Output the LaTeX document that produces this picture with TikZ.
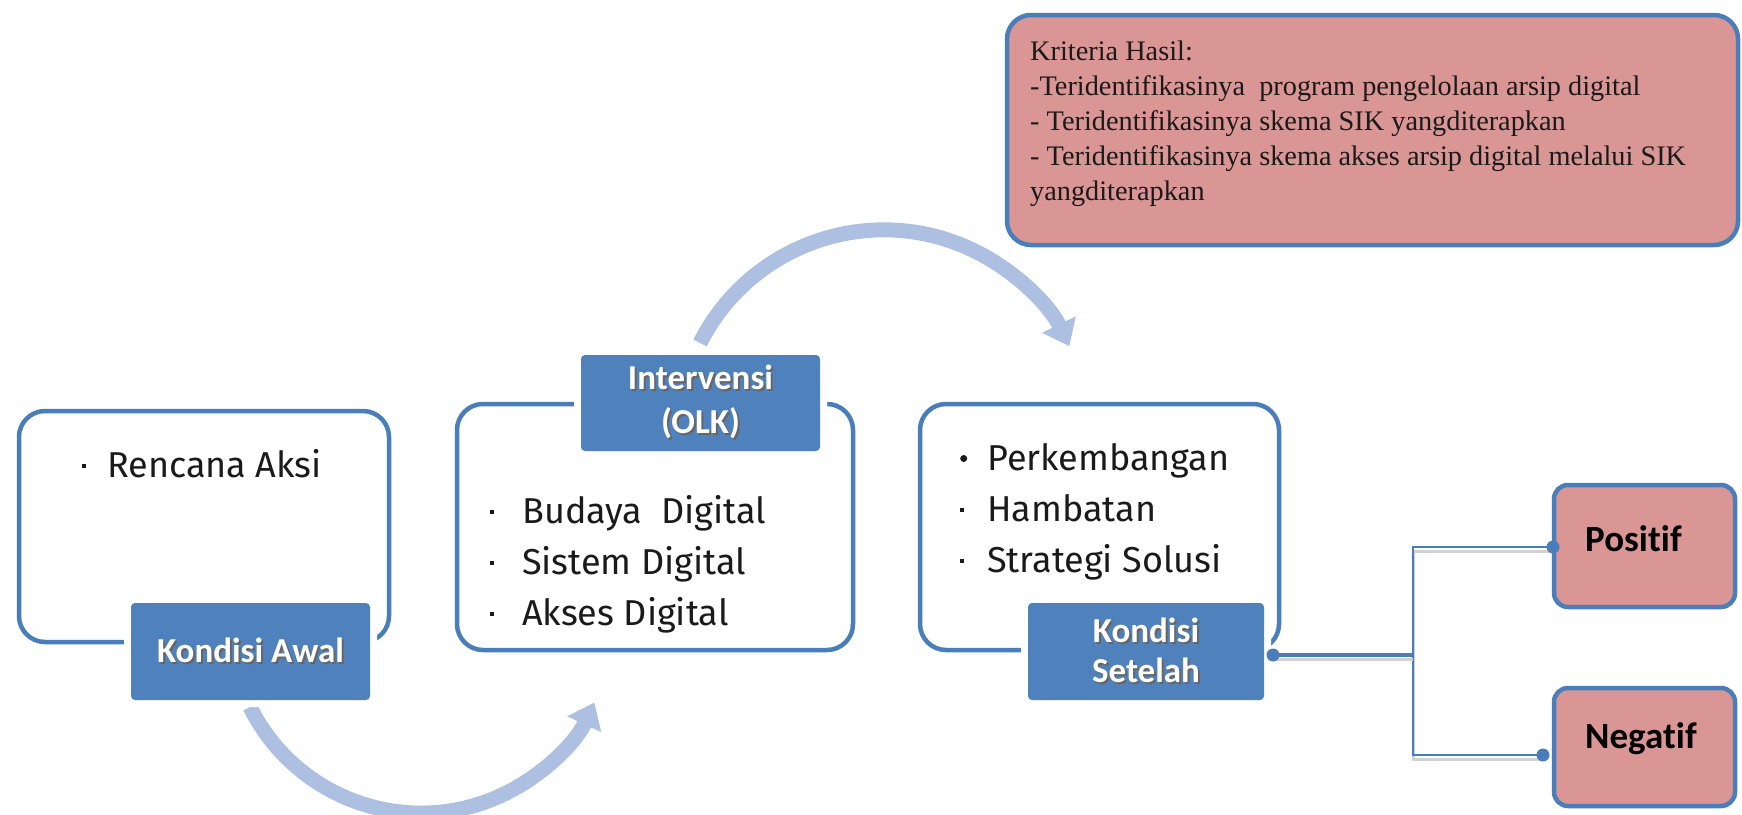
\documentclass[tikz,border=0pt]{standalone}
\usepackage{fontspec}
\setmainfont{Fira Sans}
\newfontfamily\labfont[Ligatures={NoCommon}]{Carlito}
\newfontfamily\serfont{Liberation Serif}
\usetikzlibrary{arrows.meta}
\definecolor{bord}{HTML}{4A7EBB}
\definecolor{labfill}{HTML}{4F81BD}
\definecolor{pinkf}{HTML}{D99694}
\definecolor{arrc}{HTML}{ADC0E2}
\definecolor{txt}{HTML}{1A1A1A}
\newcommand{\sqb}{\makebox[25pt][l]{\raisebox{9pt}{\rule{4pt}{4pt}}}}
\newcommand{\sqbb}{\makebox[32pt][l]{\raisebox{9pt}{\rule{4pt}{4pt}}}}
\newcommand{\rdb}{\makebox[27pt][l]{\raisebox{8pt}{\tikz\fill (0,0) circle (3.5pt);}}}
\newcommand{\sqbc}{\makebox[27pt][l]{\raisebox{9pt}{\rule{4pt}{4pt}}}}
\newcommand{\lines}[1]{\begin{tabular}[t]{@{}l@{}}#1\end{tabular}}
\newcommand{\sh}[1]{\makebox[0pt][l]{\hspace{2pt}\raisebox{-2pt}{\textcolor{black!60}{#1}}}#1}
\begin{document}
\begin{tikzpicture}[x=1pt,y=-1pt,
  cbox/.style={draw=bord, line width=4.5pt, fill=white, rounded corners=26pt, inner sep=0pt},
  lab/.style={fill=labfill, rounded corners=4pt, inner sep=0pt, text=white,
    font=\labfont\bfseries\fontsize{35}{44}\selectfont, align=center,
    preaction={draw=white, line width=14pt}},
  pbox/.style={draw=bord, line width=4.5pt, fill=pinkf, rounded corners=14pt, inner sep=0pt},
  body/.style={anchor=base west, inner sep=0pt, text=txt,
    font=\fontsize{36}{51}\selectfont},
  outtext/.style={anchor=base west, inner sep=0pt, text=black,
    font=\labfont\bfseries\fontsize{37}{40}\selectfont},
  bigarrow/.style={draw=arrc, line width=15pt, -{Triangle[width=36pt,length=24pt]}},
  conn/.style={draw=bord, line width=3.5pt},
  connthin/.style={draw=bord, line width=1.6pt},
  cshadow/.style={preaction={draw=black!18, line width=3pt, transform canvas={yshift=-4pt}}},
  dot/.style={fill=bord}
]
\useasboundingbox (0,0) rectangle (1742,814);
\fill[white] (0,0) rectangle (1742,814);

% curved arrows
\coordinate (a1s) at (250,707);
\coordinate (a2s) at (700,343);
\draw[bigarrow] (a1s) arc[start angle=153.6, end angle=24.9, radius=191];
\draw[bigarrow] (a2s) arc[start angle=-153.2, end angle=-25.8, radius=206];

% content boxes
\node[cbox, minimum width=370pt, minimum height=231pt] (box1) at (204,526.5) {};
\node[cbox, minimum width=396pt, minimum height=246pt] (box2) at (655,527) {};
\node[cbox, minimum width=359pt, minimum height=246pt] (box3) at (1099.5,527) {};

\node[body] (t1) at (82,477) {\sqb Rencana Aksi};
\node[body] (t2) at (490,523) {\lines{\sqbb Budaya\ \ Digital\\\sqbb Sistem Digital\\\sqbb Akses Digital}};
\node[body] (t3) at (960,470) {\lines{\rdb Perkembangan\\\sqbc Hambatan\\\sqbc Strategi Solusi}};

% labels
\node[lab, minimum width=239pt, minimum height=97pt] (lab1) at (250.5,651.5) {\sh{Kondisi Awal}};
\node[lab, minimum width=239pt, minimum height=96pt] (lab2) at (700.5,403) {\sh{Intervensi}\\\sh{(OLK)}};
\node[lab, minimum width=236pt, minimum height=97pt, font=\labfont\bfseries\fontsize{35}{40}\selectfont] (lab3) at (1146,651.5) {\sh{Kondisi}\\\sh{Setelah}};

% criteria box
\node[pbox, rounded corners=24pt, minimum width=731pt, minimum height=230pt] (krit) at (1372.5,130) {};
\node[anchor=base west, inner sep=0pt, text=txt,
  font=\serfont\fontsize{28.3}{35}\selectfont] (kt) at (1030,60)
  {\lines{Kriteria Hasil:\\-Teridentifikasinya\ \ program pengelolaan arsip digital\\- Teridentifikasinya skema SIK yangditerapkan\\- Teridentifikasinya skema akses arsip digital melalui SIK\\yangditerapkan}};

% outcome boxes
\node[pbox, minimum width=181pt, minimum height=122pt] (pos) at (1644.5,546) {};
\node[pbox, minimum width=181pt, minimum height=118pt] (neg) at (1644.5,747) {};
\node[outtext] (pt) at (1585,551) {Positif};
\node[outtext] (nt) at (1585,748) {Negatif};

% connectors
\coordinate (j0) at (1273,655);
\coordinate (jm) at (1413,655);
\coordinate (pj) at (1553,547);
\coordinate (nj) at (1543,755);
\draw[connthin, cshadow] (pj) -| (jm) |- (nj);
\draw[conn, cshadow] (j0) -- (jm);
\fill[dot] (j0) circle (6.5);
\fill[dot] (pj) circle (6.5);
\fill[dot] (nj) circle (6.5);
\end{tikzpicture}
\end{document}
